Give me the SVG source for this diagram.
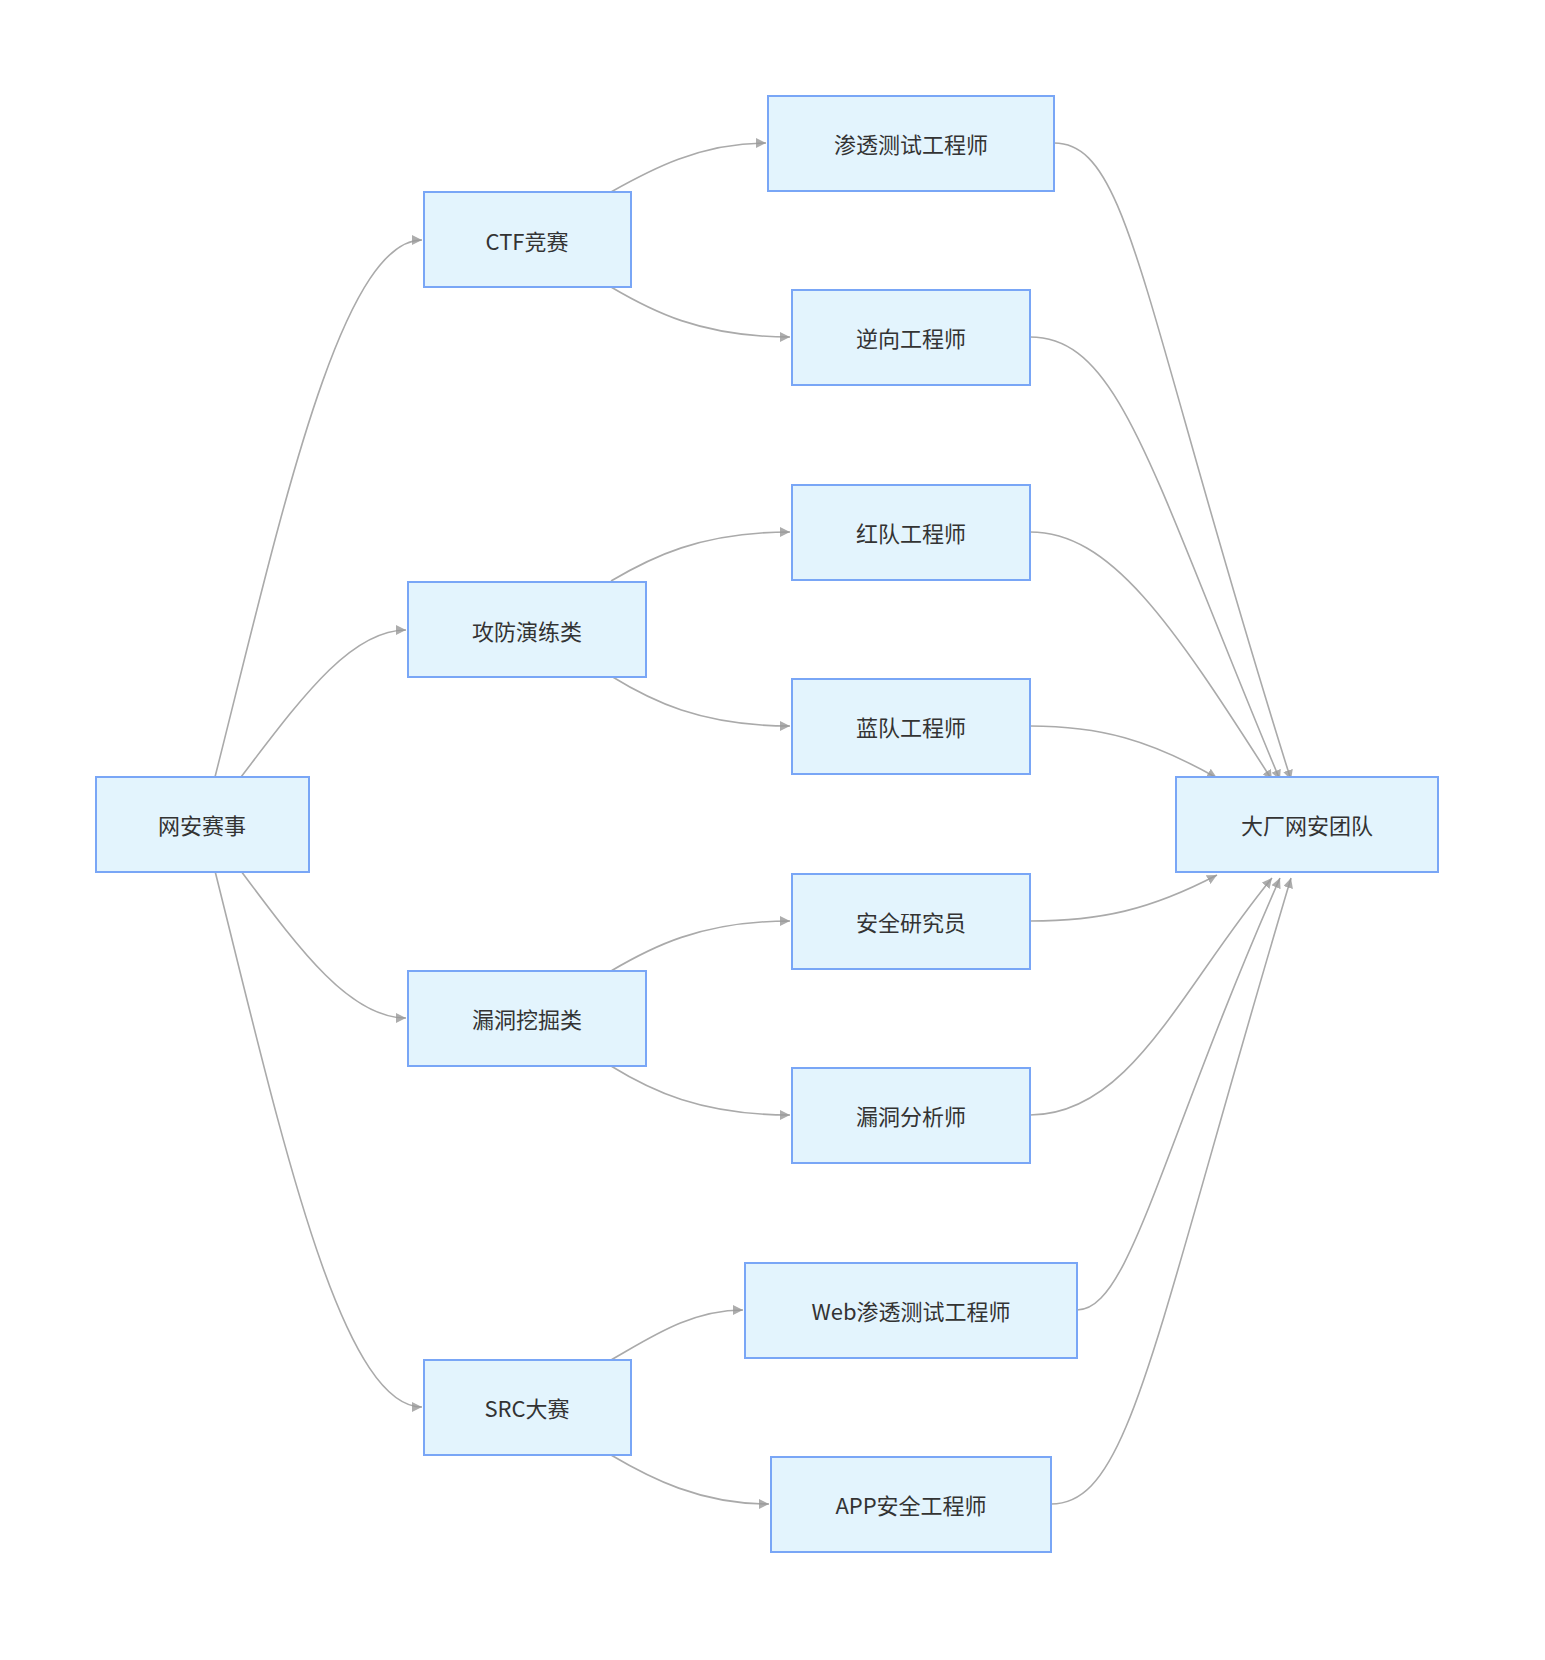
<svg xmlns="http://www.w3.org/2000/svg" width="1545" height="1660" viewBox="0 0 1545 1660">
<style>
.n rect{fill:#e3f4fd;stroke:#79a6f6;stroke-width:2}
.n text{font-family:"Noto Sans CJK SC","Liberation Sans",sans-serif;font-size:22px;fill:#333;text-anchor:middle;dominant-baseline:central}
#edges path{fill:none;stroke:#aaaaaa;stroke-width:1.6;marker-end:url(#ah)}
</style>
<defs>
<marker id="ah" viewBox="0 0 10 10" refX="10" refY="5" markerWidth="10" markerHeight="10" markerUnits="userSpaceOnUse" orient="auto">
<path d="M0,0 L10,5 L0,10 z" fill="#999" fill-opacity="0.8"/>
</marker>
</defs>
<rect width="1545" height="1660" fill="#fff"/>
<g id="edges">
<path d="M215,777 C280,520 340,240 422,240"/>
<path d="M241,777 C300,700 350,630 406,630"/>
<path d="M241,871 C300,950 350,1018 406,1018"/>
<path d="M215,871 C280,1130 340,1407 422,1407"/>
<path d="M611,192 C650,170 700,143 766,143"/>
<path d="M611,287 C650,310 700,337 790,337"/>
<path d="M611,581 C650,558 700,532 790,532"/>
<path d="M611,676 C650,700 700,726 790,726"/>
<path d="M611,971 C650,948 700,921 790,921"/>
<path d="M611,1066 C650,1090 700,1115 790,1115"/>
<path d="M611,1360 C650,1338 690,1310 743,1310"/>
<path d="M611,1455 C650,1478 700,1504 769,1504"/>
<path d="M1054,143 C1130,143 1140,300 1291,780"/>
<path d="M1030,337 C1120,337 1150,470 1280,780"/>
<path d="M1030,532 C1110,532 1170,620 1272,780"/>
<path d="M1030,726 C1100,726 1150,740 1217,778"/>
<path d="M1030,921 C1100,921 1150,910 1217,875"/>
<path d="M1030,1115 C1130,1115 1180,990 1272,878"/>
<path d="M1077,1310 C1130,1310 1160,1150 1280,878"/>
<path d="M1051,1504 C1130,1504 1150,1350 1291,878"/>
</g>
<g id="n0" class="n"><rect x="96" y="777" width="213" height="95"/><text x="202" y="824">网安赛事</text></g>
<g id="n1" class="n"><rect x="424" y="192" width="207" height="95"/><text x="527" y="240">CTF竞赛</text></g>
<g id="n2" class="n"><rect x="408" y="582" width="238" height="95"/><text x="527" y="630">攻防演练类</text></g>
<g id="n3" class="n"><rect x="408" y="971" width="238" height="95"/><text x="527" y="1018">漏洞挖掘类</text></g>
<g id="n4" class="n"><rect x="424" y="1360" width="207" height="95"/><text x="527" y="1407">SRC大赛</text></g>
<g id="n5" class="n"><rect x="768" y="96" width="286" height="95"/><text x="911" y="143">渗透测试工程师</text></g>
<g id="n6" class="n"><rect x="792" y="290" width="238" height="95"/><text x="911" y="337">逆向工程师</text></g>
<g id="n7" class="n"><rect x="792" y="485" width="238" height="95"/><text x="911" y="532">红队工程师</text></g>
<g id="n8" class="n"><rect x="792" y="679" width="238" height="95"/><text x="911" y="726">蓝队工程师</text></g>
<g id="n9" class="n"><rect x="792" y="874" width="238" height="95"/><text x="911" y="921">安全研究员</text></g>
<g id="n10" class="n"><rect x="792" y="1068" width="238" height="95"/><text x="911" y="1115">漏洞分析师</text></g>
<g id="n11" class="n"><rect x="745" y="1263" width="332" height="95"/><text x="911" y="1310">Web渗透测试工程师</text></g>
<g id="n12" class="n"><rect x="771" y="1457" width="280" height="95"/><text x="911" y="1504">APP安全工程师</text></g>
<g id="n13" class="n"><rect x="1176" y="777" width="262" height="95"/><text x="1307" y="824">大厂网安团队</text></g>
</svg>
